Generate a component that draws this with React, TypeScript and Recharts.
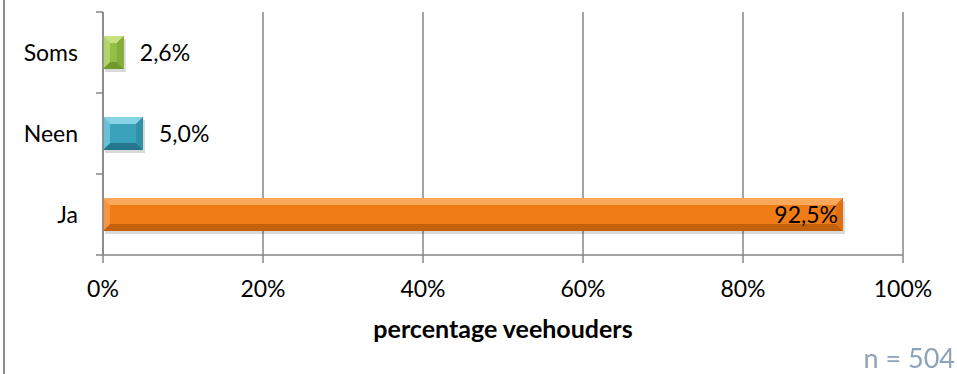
import { BarChart, Bar, XAxis, YAxis, CartesianGrid, LabelList, Cell } from "recharts";

const categories = ["Soms", "Neen", "Ja"];
const values = [2.6, 5.0, 92.5];
const valueLabels = ["2,6%", "5,0%", "92,5%"];
const xTicks = [0, 20, 40, 60, 80, 100];
const sampleNote = "n = 504";

// base / light bevel / dark bevel per bar
const palettes = [
  { base: "#94bf45", light: "#c6e27f", dark: "#6f9a2c", side: "#84ad3b" },
  { base: "#3ba2bb", light: "#86d3e6", dark: "#24778d", side: "#3191a9" },
  { base: "#f07c16", light: "#fba85a", dark: "#c3600c", side: "#e06f10" },
];

const FONT = "Lato, 'Open Sans', sans-serif";
const GRID = "#868686";

const rows = categories.map((name, i) => ({ name, value: values[i], label: valueLabels[i] }));

function BevelBar(props: any) {
  const { x, y, width, height, index } = props;
  const p = palettes[index] ?? palettes[0];
  const b = Math.min(7, width / 2, height / 2);
  const x2 = x + width;
  const y2 = y + height;
  return (
    <g>
      <rect x={x + 2} y={y + 3} width={width} height={height} fill="#000" opacity={0.15} />
      <rect x={x} y={y} width={width} height={height} fill={p.base} />
      <polygon points={`${x},${y} ${x2},${y} ${x2 - b},${y + b} ${x + b},${y + b}`} fill={p.light} />
      <polygon points={`${x},${y2} ${x2},${y2} ${x2 - b},${y2 - b} ${x + b},${y2 - b}`} fill={p.dark} />
      <polygon points={`${x},${y} ${x + b},${y + b} ${x + b},${y2 - b} ${x},${y2}`} fill={p.light} opacity={0.6} />
      <polygon points={`${x2},${y} ${x2 - b},${y + b} ${x2 - b},${y2 - b} ${x2},${y2}`} fill={p.side} />
    </g>
  );
}

function ValueLabel(props: any) {
  const { x, y, width, height, index } = props;
  const v = values[index];
  const inside = v > 50;
  return (
    <text
      x={inside ? x + width - 5 : x + width + 16}
      y={y + height / 2}
      dy="0.36em"
      textAnchor={inside ? "end" : "start"}
      fontFamily={FONT}
      fontSize={23}
      fill="#000"
    >
      {valueLabels[index]}
    </text>
  );
}

// Category tick: label at band centre, tick marks at band boundaries
function CategoryTick(props: any) {
  const { x, y, payload, index, visibleTicksCount } = props;
  const half = payload?.offset ?? 40.5;
  const axisX = x + 8;
  const last = index === (visibleTicksCount ?? categories.length) - 1;
  return (
    <g>
      <text x={axisX - 25} y={y} dy="0.36em" textAnchor="end" fontFamily={FONT} fontSize={23} fill="#000">
        {payload.value}
      </text>
      <line x1={axisX - 7} x2={axisX} y1={y - half} y2={y - half} stroke={GRID} strokeWidth={1.5} />
      {last && <line x1={axisX - 7} x2={axisX} y1={y + half} y2={y + half} stroke={GRID} strokeWidth={1.5} />}
    </g>
  );
}

export default function App() {
  return (
    <div style={{ width: 957, height: 374, background: "#fff", margin: -8 }}>
      <BarChart
        width={957}
        height={374}
        data={rows}
        layout="vertical"
        margin={{ top: 12, right: 54, left: 0, bottom: 0 }}
        barCategoryGap={24}
      >
        <CartesianGrid horizontal={false} stroke={GRID} strokeWidth={1.5} />
        <XAxis
          type="number"
          domain={[0, 100]}
          ticks={xTicks}
          tickFormatter={(v: number) => `${v}%`}
          height={119}
          axisLine={{ stroke: GRID, strokeWidth: 1.5 }}
          tickLine={{ stroke: GRID, strokeWidth: 1.5 }}
          tickSize={8}
          tick={{ fill: "#000", fontFamily: FONT, fontSize: 23, dy: 16 }}
          label={{
            value: "percentage veehouders",
            position: "insideBottom",
            offset: 36,
            style: { fontFamily: FONT, fontSize: 25, fontWeight: 700, fill: "#000" },
          }}
        />
        <YAxis
          type="category"
          dataKey="name"
          width={103}
          axisLine={{ stroke: GRID, strokeWidth: 1.5 }}
          tickLine={false}
          tick={<CategoryTick />}
        />
        <Bar dataKey="value" shape={<BevelBar />} isAnimationActive={false}>
          {rows.map((r, i) => (
            <Cell key={r.name} fill={palettes[i].base} />
          ))}
          <LabelList dataKey="value" content={<ValueLabel />} />
        </Bar>
      </BarChart>
      {/* frame edge and sample size sit outside the page's clipped area */}
      <svg
        width={957}
        height={374}
        style={{ position: "fixed", left: 0, top: 0, zIndex: 5, pointerEvents: "none" }}
      >
        <line x1={4} x2={4} y1={0} y2={374} stroke="#8c8c8c" strokeWidth={2} />
        <text x={955} y={368} textAnchor="end" fontFamily={FONT} fontSize={27} fill="#8ea2ba">
          {sampleNote}
        </text>
      </svg>
    </div>
  );
}
